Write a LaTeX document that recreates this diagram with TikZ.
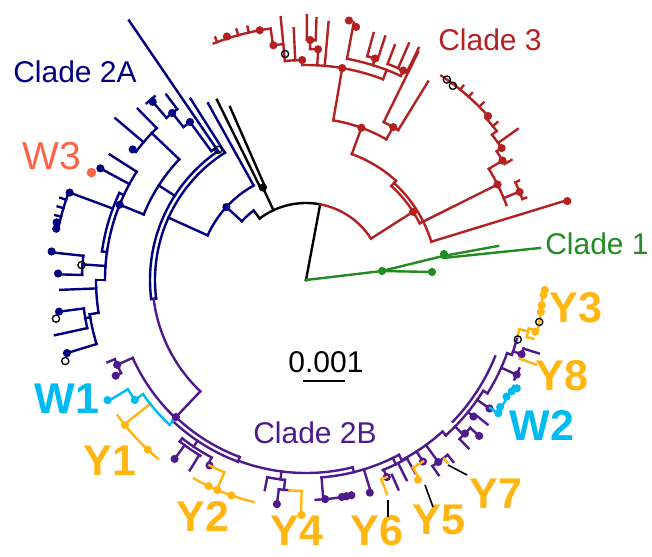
\documentclass[tikz,border=0pt]{standalone}
\usepackage{fontspec}
\setmainfont{Liberation Sans}
\definecolor{navyc}{HTML}{000080}
\definecolor{redc}{HTML}{B22222}
\definecolor{greenc}{HTML}{228B22}
\definecolor{purc}{HTML}{4F1A8C}
\definecolor{yelc}{HTML}{FFB612}
\definecolor{cyanc}{HTML}{00BBF2}
\definecolor{tomc}{HTML}{FF6347}
\newcommand\Rd[3]{\draw (#1:#2) -- (#1:#3);}
\newcommand\Ac[3]{\draw (#1:#3) arc[start angle=#1,end angle=#2,radius=#3];}
\newcommand\Dt[2]{\fill (#1:#2) circle[radius=4.1];}
\newcommand\Oc[2]{\draw[ocirc] (#1:#2) circle[radius=3.6];}
\tikzset{ocirc/.style={black,line width=1.3pt},
  lab/.style={inner sep=0pt, font=\fontsize{30}{30}\selectfont},
  blab/.style={inner sep=0pt, font=\fontsize{43}{43}\selectfont\bfseries},
  lead/.style={black,line width=1.6pt,line cap=butt}}
\begin{document}
\begin{tikzpicture}[x=1pt,y=1pt,yscale=-1,line width=2.4pt,line cap=rect]
\useasboundingbox (0,0) rectangle (652,556);
\fill[white] (0,0) rectangle (652,556);
\begin{scope}[shift={(306,280)}]
% ---------- black backbone
\begin{scope}[black]
\Rd{-79.4}{0}{77}
\Ac{-79.4}{-127}{77}
\Rd{-115}{77}{102}
\Ac{-116.3}{-113.7}{102}
\Rd{-116.3}{102}{201}
\Rd{-113.7}{102}{189}
\Rd{-127}{77}{87}
\Dt{-115}{102}
\fill (0,0) circle[radius=1.6];
\end{scope}
% ---------- Clade 3
\begin{scope}[redc]
\Ac{-79.4}{-32.5}{77}
\Rd{-32.5}{77}{127}
\Dt{-32.5}{127}
\Ac{-47.8}{-26.5}{127}
\Rd{-47.8}{127}{134}
\Ac{-47.8}{-70}{134}
\Ac{-47.8}{-17}{131}
\Rd{-17}{131}{274}
\Dt{-16.8}{273}
\Rd{-26.5}{127}{214}
\Dt{-26.5}{214}
\Ac{-20.5}{-31.3}{214}
\Rd{-22.5}{214}{231}
\Dt{-22.4}{231}
\Ac{-25}{-20.5}{231}
\Rd{-25}{231}{235}
\Rd{-20.5}{231}{235}
\Rd{-31.3}{214}{230}
\Dt{-31.3}{230}
\Ac{-31.3}{-34}{230}
\Rd{-34}{230}{236}
\Dt{-34}{236}
\Ac{-34}{-38}{236}
\Rd{-38}{236}{242}
\Ac{-38}{-42}{242}
\Rd{-42}{242}{245}
\Dt{-42}{245}
\Ac{-42}{-56.5}{245}
\Rd{-35.5}{236}{260}
\Rd{-30.3}{230}{238}
\Rd{-45}{245}{251}
\Rd{-48.4}{245}{250}
\Rd{-51}{245}{250}
\Rd{-39.5}{242}{248}
\Rd{-70}{134}{162}
\Dt{-70}{162}
\Ac{-70}{-60.3}{162}
\Rd{-60.3}{162}{176}
\Dt{-60.3}{176}
\Ac{-63.8}{-58.4}{176}
\Rd{-63.8}{176}{254}
\Rd{-58.4}{176}{233}
\Ac{-70}{-80.3}{162}
\Rd{-80.3}{162}{215}
\Dt{-80.3}{215}
\Ac{-80.3}{-91}{215}
\Rd{-85}{215}{259}
\Rd{-87}{215}{231}
\Dt{-87}{231}
\Ac{-87}{-89}{231}
\Rd{-89}{231}{240}
\Dt{-89}{240}
\Ac{-89.8}{-87.7}{240}
\Rd{-89.8}{240}{265}
\Rd{-87.7}{240}{262}
\Rd{-91}{215}{220}
\Dt{-91}{220}
\Ac{-91}{-95.5}{220}
\Rd{-92.8}{220}{252}
\Rd{-95.5}{220}{264}
\Ac{-95.5}{-98}{237}
\Dt{-97.9}{237}
\Rd{-98}{237}{253}
\Ac{-98}{-111.3}{254}
\Dt{-100.5}{254}
\Dt{-108}{256}
\Rd{-103}{254}{260}
\Rd{-105.5}{254}{260}
\Rd{-110.5}{254}{259}
\Ac{-80.3}{-69}{215}
\Rd{-69}{215}{225}
\Ac{-79.5}{-65.1}{225}
\Rd{-79.5}{225}{262}
\Dt{-80.6}{263}
\Dt{-78.8}{258}
\Rd{-72.7}{225}{232}
\Dt{-72.7}{232}
\Ac{-74.7}{-72}{232}
\Rd{-74.7}{232}{256}
\Rd{-72}{232}{256}
\Rd{-65.1}{225}{231}
\Dt{-65.1}{231}
\Ac{-69.3}{-64.1}{231}
\Rd{-69.3}{231}{251}
\Rd{-66.5}{231}{258}
\Rd{-64.1}{231}{258}
\end{scope}
\Oc{-95.3}{227}
\Oc{-54.9}{245}
\Oc{-52.9}{243.5}
% ---------- Clade 2A
\begin{scope}[navyc]
\Ac{-127}{-137.5}{87}
\Rd{-137.5}{87}{108}
\Dt{-137.5}{108}
\Ac{-119}{-155.6}{108}
\Rd{-119}{108}{202}
\Rd{-155.6}{108}{151}
\Ac{-122.5}{-187}{151}
\Ac{-124.3}{-187}{156}
\Rd{-187}{151}{156}
\Rd{-122.5}{151}{215}
\Rd{-124.3}{156}{314}
\Ac{-124.3}{-126.3}{160}
\Rd{-126.3}{160}{196}
\Dt{-126.3}{196}
\Ac{-126.3}{-128.7}{196}
\Rd{-128.7}{196}{214}
\Dt{-128.7}{214}
\Ac{-127}{-130.7}{214}
\Rd{-127}{214}{232}
\Rd{-130.7}{214}{236}
\Dt{-130.7}{235}
\Ac{-132}{-129.5}{238}
\Rd{-147.3}{156}{175}
\Ac{-136.4}{-158}{175}
\Rd{-136.4}{175}{213}
\Ac{-134.5}{-143}{213}
\Rd{-134.5}{213}{240}
\Rd{-139.7}{213}{250}
\Rd{-143}{213}{218}
\Dt{-143}{217}
\Rd{-158}{175}{201}
\Dt{-158}{201}
\Ac{-147.4}{-180}{201}
\Ac{-155}{-172}{206}
\Rd{-155}{201}{206}
\Rd{-172}{201}{206}
\Rd{-147.4}{201}{233}
\Rd{-151.5}{201}{234}
\Dt{-151.5}{234}
\Rd{-159.7}{206}{252}
\Dt{-159.7}{252}
\Ac{-159.7}{-168.4}{253}
\Dt{-168.4}{255}
\Dt{-167}{256}
\Rd{-161.5}{253}{259}
\Rd{-163.5}{253}{259}
\Rd{-165.5}{253}{259}
\Rd{-176}{201}{224}
\Ac{-173.8}{-178.7}{224}
\Rd{-173.8}{224}{256}
\Dt{-173.6}{256}
\Rd{-178.7}{224}{248}
\Dt{-178.5}{248}
\Rd{-180}{201}{210}
\Ac{-180}{-189}{210}
\Rd{-182.3}{210}{246}
\Rd{-189}{210}{219}
\Ac{-189}{-197}{219}
\Rd{-189.8}{219}{224}
\Ac{-187.3}{-192.4}{224}
\Rd{-187.3}{224}{249}
\Dt{-187.3}{249}
\Rd{-192.4}{224}{257}
\Rd{-197}{219}{250}
\Dt{-197}{250}
\end{scope}
\fill[tomc] (-153.4:240) circle[radius=4.8];
\Oc{-124}{157}
\Oc{-176.2}{225}
\Oc{-188.8}{253}
\Oc{-198.6}{254}
% ---------- Clade 2B
\begin{scope}[purc]
\Ac{-187}{-226.5}{153.5}
\Rd{133.5}{153.5}{189}
\Dt{133.5}{189}
\Ac{133.5}{155.8}{190}
\Rd{155.8}{190}{207}
\Dt{155.8}{207}
\Ac{157.5}{153.3}{207}
\Rd{157.5}{207}{215}
\Rd{153.3}{207}{213}
\Dt{153.3}{213}
\Ac{133.5}{110.5}{189}
\Ac{133.5}{110.5}{194}
\Rd{110.5}{189}{194}
\Ac{110.5}{76}{193}
\Rd{76}{193}{198}
\Ac{85.5}{62}{198}
\Rd{62}{198}{204}
\Ac{62}{48}{204}
\Rd{48}{204}{209}
\Ac{48}{32}{209}
\Rd{32}{209}{214}
\Ac{32}{20}{214}
\Rd{20}{214}{219}
\Ac{20}{15}{219}
\Ac{44}{22}{204}
\Rd{124}{194}{201}
\Ac{128}{118}{201}
\Ac{128}{121}{205}
\Rd{128}{201}{205}
\Rd{126.3}{205}{222}
\Dt{126.3}{222}
\Rd{121.4}{205}{223}
\Rd{118}{201}{209}
\Dt{117.5}{209}
\Rd{97.3}{193}{201}
\Ac{101.1}{96}{201}
\Rd{101.1}{201}{214}
\Rd{96}{201}{211}
\Ac{97.4}{94.5}{211}
\Rd{97.4}{211}{226}
\Dt{97.4}{226}
\Rd{85.5}{198}{220}
\Ac{87.5}{77.5}{220}
\Dt{85}{220}
\Dt{80.6}{220}
\Dt{79.4}{220}
\Dt{78.1}{220}
\Rd{73}{198}{222}
\Dt{73.3}{222}
\Rd{64}{198}{205}
\Ac{68}{60.5}{205}
\Rd{67.7}{205}{213}
\Dt{67.7}{213}
\Rd{66.2}{213}{229}
\Rd{63.3}{205}{224}
\Rd{60.5}{205}{222}
\Rd{57.2}{204}{216}
\Dt{57.2}{216}
\Rd{54}{204}{225}
\Dt{54}{225}
\Ac{55.8}{51}{225}
\Rd{55.8}{225}{236}
\Rd{51}{225}{234}
\Rd{44.5}{209}{221}
\Dt{44}{221}
\Ac{46}{42}{221}
\Rd{46}{221}{234}
\Rd{42}{221}{233}
\Dt{42}{233}
\Rd{39.2}{209}{216}
\Dt{39.2}{216}
\Rd{38.5}{216}{232}
\Rd{35}{209}{224}
\Dt{35}{224}
\Rd{24.2}{214}{231}
\Dt{24.2}{231}
\Ac{25.5}{22.5}{231}
\Rd{19}{219}{228}
\Dt{19}{228}
\Ac{17.5}{20.2}{228}
\Rd{17.5}{228}{244}
\end{scope}
% ---------- yellow
\begin{scope}[yelc]
\Rd{141.5}{199}{232}
\Dt{141.3}{232}
\Ac{144.3}{129.7}{232}
\Dt{133}{232}
\Ac{117.5}{113}{209}
\Rd{113}{209}{228}
\Ac{119.4}{103.3}{228}
\Dt{115.3}{228}
\Dt{112.9}{228}
\Dt{109.1}{228}
\Ac{94.5}{91.2}{211}
\Rd{91.2}{211}{235}
\Dt{91.1}{235}
\Ac{67.7}{69.3}{213}
\Rd{69.3}{213}{229}
\Ac{57.2}{60.3}{216}
\Rd{60.3}{216}{229}
\Dt{60.7}{229}
\Rd{52.3}{226}{231}
\Rd{20.2}{228}{245}
\Ac{15}{13}{219}
\Rd{13}{219}{228}
\Ac{14.5}{12.3}{228}
\Rd{14.5}{228}{235}
\Rd{12.3}{228}{235}
\Dt{12.7}{235}
\Rd{12.5}{235}{237}
\Ac{12.5}{2}{237}
\Dt{7.7}{237}
\Dt{6.1}{237}
\Dt{3.6}{238}
\Dt{2.4}{239}
\end{scope}
% ---------- cyan
\begin{scope}[cyanc]
\Rd{133.3}{194}{199}
\Ac{133.3}{145}{199}
\Rd{145}{199}{209}
\Dt{145}{209}
\Ac{145}{148.5}{209}
\Rd{148.5}{209}{232}
\Dt{148.8}{232}
\Rd{34.8}{224}{233}
\Ac{34.8}{27}{233}
\Dt{34.7}{234}
\Dt{33.2}{232}
\Dt{30.2}{232}
\Dt{28.4}{234}
\Dt{27.2}{237}
\end{scope}
\Oc{15.7}{220}
\Oc{10.2}{237}
\end{scope}
% ---------- Clade 1
\begin{scope}[greenc]
\draw (306,280) -- (382,271);
\draw (382,271) -- (432,272);
\draw (382,271) -- (443,256);
\draw (443,256) -- (498,246);
\draw (443,258) -- (540,248);
\fill (382,271) circle[radius=4.1];
\fill (432,272) circle[radius=4.1];
\fill (444,254) circle[radius=4.1];
\end{scope}
% ---------- labels
\node[lab, navyc] (c2a) at (75,72) {Clade 2A};
\node[lab, redc] (c3) at (490,40) {Clade 3};
\node[lab, greenc] (c1) at (597,244) {Clade 1};
\node[lab, purc] (c2b) at (315,433) {Clade 2B};
\node[inner sep=0pt, tomc, font=\fontsize{39}{39}\selectfont] (w3) at (52,156) {W3};
\node[lab, black] (sc) at (326,362) {0.001};
\coordinate (sba) at (303,381);
\coordinate (sbb) at (345,381);
\draw[black, line width=2pt, line cap=butt] (sba) -- (sbb);
\node[blab, cyanc] (w1) at (67,399) {W1};
\node[blab, cyanc] (w2) at (542,425) {W2};
\node[blab, yelc] (y1) at (110,461) {Y1};
\node[blab, yelc] (y2) at (203,516) {Y2};
\node[blab, yelc] (y3) at (576,308) {Y3};
\node[blab, yelc] (y4) at (297,531) {Y4};
\node[blab, yelc] (y5) at (439,520) {Y5};
\node[blab, yelc] (y6) at (377,531) {Y6};
\node[blab, yelc] (y7) at (496,494) {Y7};
\node[blab, yelc] (y8) at (562,376) {Y8};
\coordinate (l6a) at (388,500);
\coordinate (l6b) at (388,517);
\coordinate (l5a) at (425,485);
\coordinate (l5b) at (433,507);
\coordinate (l7a) at (448,465);
\coordinate (l7b) at (467,475);
\draw[lead] (l6a) -- (l6b);
\draw[lead] (l5a) -- (l5b);
\draw[lead] (l7a) -- (l7b);
\end{tikzpicture}
\end{document}
